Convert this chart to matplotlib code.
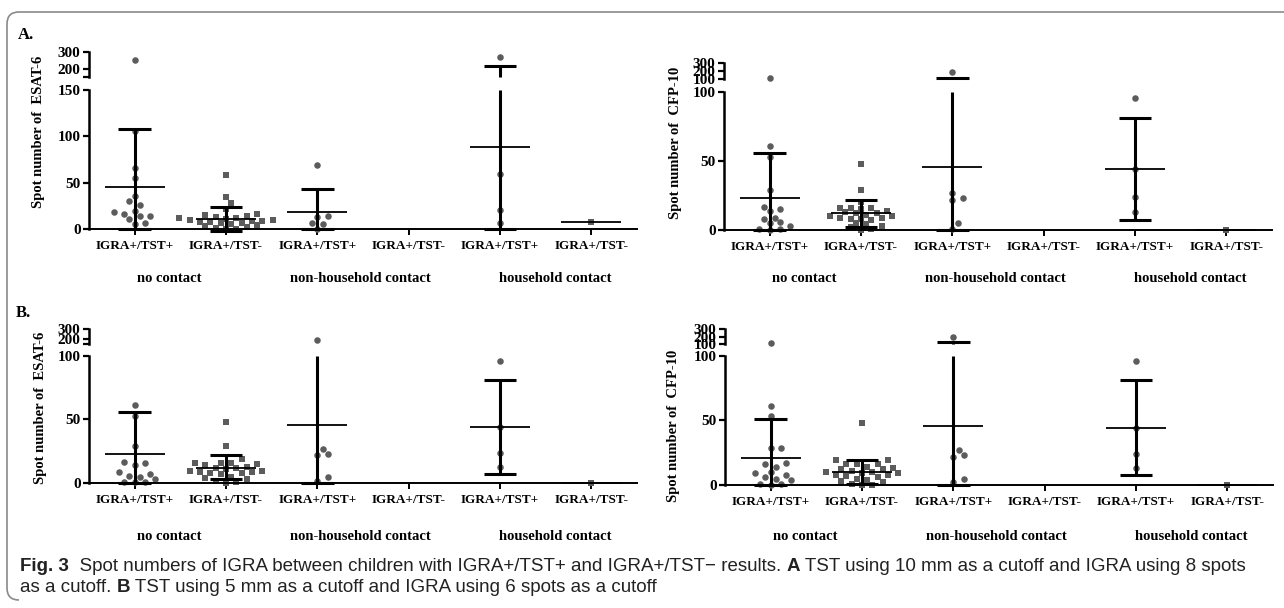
import numpy as np
import matplotlib
matplotlib.use("Agg")
from matplotlib import pyplot as plt
from matplotlib.path import Path
from matplotlib.patches import PathPatch
from matplotlib.transforms import blended_transform_factory

W, H, DPI = 1284, 608, 100

CATS = ["IGRA+/TST+", "IGRA+/TST-"] * 3
GROUPS = ["no contact", "non-household contact", "household contact"]
GROUP_X = [1.38, 3.47, 5.6]
MARKERS = ["o", "s", "o", "s", "o", "s"]

# ---- values (spot counts) ----
# A, ESAT-6
A_ESAT_PTS = [
    [250, 106, 66, 55, 36, 30, 26, 19, 18, 16, 14, 14, 11, 7, 5],
    [58, 35, 28, 22, 16, 15, 14, 13, 12, 12, 11, 10, 10, 9, 9, 8, 8, 7, 6, 5, 4, 3, 2, 1, 0, 0],
    [69, 14, 13, 7, 5, 0],
    [],
    [274, 59, 20, 6],
    [8],
]
A_ESAT_MEAN = [45, 11, 18, None, 89, 8]
A_ESAT_LO = [0, -2, 0, None, 0, None]
A_ESAT_HI = [108, 24, 43, None, 218, None]

# A, CFP-10
A_CFP_PTS = [
    [120, 61, 53, 29, 17, 15, 14, 9, 8, 6, 5, 3, 1, 1, 0],
    [48, 29, 20, 16, 16, 16, 15, 14, 13, 12, 12, 11, 10, 10, 9, 9, 8, 8, 7, 5, 4, 3, 2, 1, 0],
    [190, 27, 23, 22, 5, 1],
    [],
    [96, 44, 24, 13],
    [0],
]
A_CFP_MEAN = [23, 12, 46, None, 44, 0]
A_CFP_LO = [0, 2, 0, None, 7, None]
A_CFP_HI = [56, 22, 116, None, 81, None]

# B, ESAT-6
B_ESAT_PTS = [
    [61, 53, 29, 17, 16, 14, 9, 7, 6, 5, 3, 1, 1, 1],
    [48, 29, 19, 16, 16, 16, 15, 14, 13, 12, 12, 11, 10, 10, 9, 9, 8, 8, 7, 5, 4, 3, 2, 1, 0],
    [190, 27, 23, 22, 5, 2],
    [],
    [96, 44, 24, 13],
    [0],
]
B_ESAT_MEAN = [23, 12, 46, None, 44, 0]
B_ESAT_LO = [0, 3, 0, None, 7.5, None]
B_ESAT_HI = [56, 22, 117, None, 81, None]

# B, CFP-10
B_CFP_PTS = [
    [120, 61, 53, 29, 29, 17, 16, 14, 10, 9, 8, 6, 5, 4, 1, 1, 0],
    [48, 19, 19, 16, 16, 16, 14, 13, 12, 12, 11, 10, 10, 9, 9, 8, 8, 7, 6, 5, 4, 3, 2, 1, 0, 0],
    [190, 27, 23, 22, 5, 2],
    [],
    [96, 44, 24, 13],
    [0],
]
B_CFP_MEAN = [21, 10, 46, None, 44, 0]
B_CFP_LO = [0, 1, 0, None, 7.5, None]
B_CFP_HI = [51, 19, 122, None, 81, None]

SERIF = ["Liberation Serif", "DejaVu Serif"]
SANS = ["Liberation Sans", "DejaVu Sans"]
PT_COLOR = "#5c5c5c"

fig = plt.figure(figsize=(W / DPI, H / DPI), dpi=DPI)


def px_axes(x0, y0, x1, y1):
    return fig.add_axes([x0 / W, 1 - y1 / H, (x1 - x0) / W, (y1 - y0) / H])


def swarm_offsets(vals, ppu_y, ppu_x, d=6.5):
    # simple beeswarm: nudge sideways until a point no longer sits on a placed one
    placed = []
    out = np.zeros(len(vals))
    for i in np.argsort(vals):
        y = vals[i] * ppu_y
        for k in range(60):
            step = (k + 1) // 2 * (1 if k % 2 else -1)
            xo = step * d * 0.8
            if all(np.hypot(xo - px, y - py) >= d for px, py in placed):
                break
        placed.append((xo, y))
        out[i] = xo / ppu_x
    return out


def style_axes(ax, lim, ticks, labels, lower):
    ax.set_xlim(0.5, 6.5)
    ax.set_ylim(*lim)
    ax.patch.set_alpha(0)
    for s in ("top", "right"):
        ax.spines[s].set_visible(False)
    ax.spines["left"].set_linewidth(1.8)
    ax.set_yticks(ticks)
    ax.set_yticklabels(labels, fontfamily=SERIF, fontweight="bold", fontsize=11)
    ax.tick_params(axis="y", length=4.5, width=1.6, pad=1.5)
    if lower:
        ax.spines["bottom"].set_linewidth(1.4)
        ax.set_xticks(range(1, 7))
        ax.set_xticklabels(CATS, fontfamily=SERIF, fontweight="bold", fontsize=9.5)
        ax.tick_params(axis="x", length=4, width=1.4, pad=4)
    else:
        ax.spines["bottom"].set_visible(False)
        ax.set_xticks([])


def draw_segment(ax, lim, pts, mean, lo, hi, offs, lower):
    a, b = lim
    for i in range(6):
        x = i + 1
        vals = np.array(pts[i], dtype=float)
        if len(vals):
            keep = (vals <= b) if lower else (vals >= a)
            ax.scatter(x + offs[i][keep], vals[keep], marker=MARKERS[i], s=22,
                       color=PT_COLOR, linewidths=0, zorder=2, clip_on=False)
        m = mean[i]
        if m is not None and a <= m <= b:
            ax.hlines(m, x - 0.33, x + 0.33, color="black", lw=1.3, zorder=3, clip_on=False)
        if lo[i] is None:
            continue
        y0 = lo[i] if lower else max(lo[i], a)
        y1 = min(hi[i], b)
        if y0 < y1:
            ax.vlines(x, y0, y1, color="black", lw=2.2, zorder=3, clip_on=False)
        for c in (lo[i], hi[i]):
            if (a - 3 if lower else a) <= c <= b:
                ax.hlines(c, x - 0.18, x + 0.18, color="black", lw=2.2, zorder=3, clip_on=False)


PANELS = [
    dict(xs=(89, 637), low=(90, 229), up=(52.3, 76.7), lowlim=(0, 150), uplim=(150, 300),
         lowticks=[0, 50, 100, 150], upticks=[150, 200, 300], uplabels=["", "200", "300"],
         pts=A_ESAT_PTS, mean=A_ESAT_MEAN, lo=A_ESAT_LO, hi=A_ESAT_HI,
         ylabel="Spot number of  ESAT-6", ylab=(39, 132), group_y=278),
    dict(xs=(724, 1272), low=(92, 230), up=(63.3, 79.3), lowlim=(0, 100), uplim=(100, 300),
         lowticks=[0, 50, 100], upticks=[100, 200, 300], uplabels=["100", "200", "300"],
         pts=A_CFP_PTS, mean=A_CFP_MEAN, lo=A_CFP_LO, hi=A_CFP_HI,
         ylabel="Spot number of  CFP-10", ylab=(675, 143), group_y=278),
    dict(xs=(89, 637), low=(355.7, 483.3), up=(329.3, 344), lowlim=(0, 100), uplim=(150, 300),
         lowticks=[0, 50, 100], upticks=[150, 200, 300], uplabels=["", "200", "300"],
         pts=B_ESAT_PTS, mean=B_ESAT_MEAN, lo=B_ESAT_LO, hi=B_ESAT_HI,
         ylabel="Spot number of  ESAT-6", ylab=(41, 408), group_y=536),
    dict(xs=(725, 1273), low=(355.7, 485), up=(329.3, 344), lowlim=(0, 100), uplim=(100, 300),
         lowticks=[0, 50, 100], upticks=[100, 200, 300], uplabels=["100", "200", "300"],
         pts=B_CFP_PTS, mean=B_CFP_MEAN, lo=B_CFP_LO, hi=B_CFP_HI,
         ylabel="Spot number of  CFP-10", ylab=(673, 426), group_y=536),
]

for p in PANELS:
    x0, x1 = p["xs"]
    ax_lo = px_axes(x0, p["low"][0], x1, p["low"][1])
    ax_up = px_axes(x0, p["up"][0], x1, p["up"][1])
    style_axes(ax_lo, p["lowlim"], p["lowticks"], [str(t) for t in p["lowticks"]], True)
    style_axes(ax_up, p["uplim"], p["upticks"], p["uplabels"], False)

    ppu_x = (x1 - x0) / 6
    ppu_y = (p["low"][1] - p["low"][0]) / (p["lowlim"][1] - p["lowlim"][0])
    offs = []
    for vals in p["pts"]:
        v = np.array(vals, dtype=float)
        o = np.zeros(len(v))
        inside = v <= p["lowlim"][1]
        if inside.any():
            o[inside] = swarm_offsets(v[inside], ppu_y, ppu_x)
        offs.append(o)

    draw_segment(ax_lo, p["lowlim"], p["pts"], p["mean"], p["lo"], p["hi"], offs, True)
    draw_segment(ax_up, p["uplim"], p["pts"], p["mean"], p["lo"], p["hi"], offs, False)

    tr = blended_transform_factory(ax_lo.transData, fig.transFigure)
    for gx, g in zip(GROUP_X, GROUPS):
        fig.text(gx, 1 - p["group_y"] / H, g, transform=tr, ha="center", va="center",
                 fontfamily=SERIF, fontweight="bold", fontsize=10.5)
    fig.text(p["ylab"][0] / W, 1 - p["ylab"][1] / H, p["ylabel"], rotation=90,
             ha="center", va="center", fontfamily=SERIF, fontweight="bold", fontsize=10.5)

fig.text(18 / W, 1 - 35 / H, "A.", ha="left", va="center",
         fontfamily=SERIF, fontweight="bold", fontsize=12)
fig.text(16 / W, 1 - 313 / H, "B.", ha="left", va="center",
         fontfamily=SERIF, fontweight="bold", fontsize=12)

# ---- frame around figure + caption ----
r = 12
verts = [(W + 5, 12), (7 + r, 12), (7, 12), (7, 12 + r), (7, 600 - r), (7, 600), (7 + r, 600)]
codes = [Path.MOVETO, Path.LINETO, Path.CURVE3, Path.CURVE3, Path.LINETO, Path.CURVE3, Path.CURVE3]
verts = [(vx / W, 1 - vy / H) for vx, vy in verts]
fig.patches.append(PathPatch(Path(verts, codes), transform=fig.transFigure, fill=False,
                             edgecolor="#8a8a8a", lw=1.2))

renderer = fig.canvas.get_renderer()


def text_runs(x_px, y_px, runs, size=13.5):
    x = x_px
    for s, weight in runs:
        t = fig.text(x / W, 1 - y_px / H, s, ha="left", va="baseline",
                     fontfamily=SANS, fontweight=weight, fontsize=size, color="#222222")
        x += t.get_window_extent(renderer).width


text_runs(20, 571, [
    ("Fig. 3", "bold"),
    ("  Spot numbers of IGRA between children with IGRA+/TST+ and IGRA+/TST\u2212 results. ", "normal"),
    ("A", "bold"),
    (" TST using 10 mm as a cutoff and IGRA using 8 spots", "normal"),
])
text_runs(20, 592, [
    ("as a cutoff. ", "normal"),
    ("B", "bold"),
    (" TST using 5 mm as a cutoff and IGRA using 6 spots as a cutoff", "normal"),
])

fig.savefig("out.png", dpi=DPI)
